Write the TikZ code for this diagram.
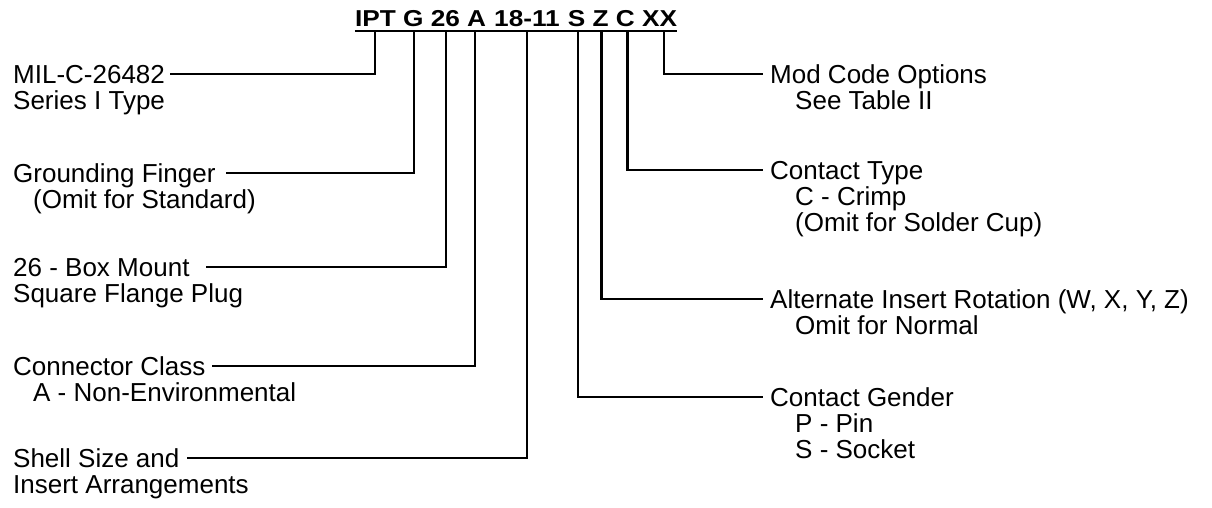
\documentclass[tikz,border=0pt]{standalone}
\usepackage{fontspec}
\setmainfont{Liberation Sans}
\newfontfamily\titlefont{Liberation Sans}[FakeStretch=1.14]
\begin{document}
\begin{tikzpicture}[x=1pt,y=-1pt,
  conn/.style={line width=2.2pt,line cap=rect,line join=miter,black},
  titleseg/.style={anchor=base,inner sep=0pt,text depth=4pt,
    font=\titlefont\bfseries\fontsize{23}{23}\selectfont},
  lbl/.style={anchor=west,inner sep=0pt,text height=18.7pt,text depth=0pt,
    font=\fontsize{26}{26}\selectfont}]
\useasboundingbox (0,0) rectangle (1212,508);
% title segments
\node[titleseg] (ipt) at (375.4,27) {IPT};
\node[titleseg] (g)   at (413.3,27) {G};
\node[titleseg] (n26) at (445.4,27) {26};
\node[titleseg] (a)   at (476.7,27) {A};
\node[titleseg] (sz)  at (527,27) {18-11};
\node[titleseg] (s)   at (576.5,27) {S};
\node[titleseg] (z)   at (600.6,27) {Z};
\node[titleseg] (c)   at (625.3,27) {C};
\node[titleseg] (xx)  at (659.5,27) {XX};
\draw[line width=2pt] (ipt.south west) -- (xx.south east);
% left labels
\node[lbl] (mil) at (13,74) {MIL-C-26482};
\node[lbl] (mil2) at (13,100) {Series I Type};
\node[lbl] (gf) at (13,173) {Grounding Finger};
\node[lbl] (gf2) at (33,199) {(Omit for Standard)};
\node[lbl] (bm) at (13,267) {26 - Box Mount};
\node[lbl] (bm2) at (13,293) {Square Flange Plug};
\node[lbl] (cc) at (13,366) {Connector Class};
\node[lbl] (cc2) at (33,392) {A - Non-Environmental};
\node[lbl] (ss) at (13,458) {Shell Size and};
\node[lbl] (ss2) at (13,484) {Insert Arrangements};
% right labels
\node[lbl] (mod) at (770,74) {Mod Code Options};
\node[lbl] (mod2) at (795,100) {See Table II};
\node[lbl] (ct) at (770,170) {Contact Type};
\node[lbl] (ct2) at (795,196) {C - Crimp};
\node[lbl] (ct3) at (795,222) {(Omit for Solder Cup)};
\node[lbl] (ar) at (770,299) {Alternate Insert Rotation (W, X, Y, Z)};
\node[lbl] (ar2) at (795,325) {Omit for Normal};
\node[lbl] (cg) at (770,397) {Contact Gender};
\node[lbl] (cg2) at (795,423) {P - Pin};
\node[lbl] (cg3) at (795,449) {S - Socket};
% connectors
\draw[conn] ([xshift=-0.4pt]ipt.south) |- ([xshift=6pt]mil.east);
\draw[conn] ([xshift=0.7pt]g.south) |- ([xshift=11pt]gf.east);
\draw[conn] ([xshift=0.6pt]n26.south) |- ([xshift=17pt]bm.east);
\draw[conn] ([xshift=-1.7pt]a.south) |- ([xshift=8pt]cc.east);
\draw[conn] (sz.south) |- ([xshift=8pt]ss.east);
\draw[conn] ([xshift=4.5pt]xx.south) |- ([xshift=-8pt]mod.west);
\draw[conn] ([xshift=2.2pt]c.south) |- ([xshift=-8pt]ct.west);
\draw[conn] ([xshift=0.9pt]z.south) |- ([xshift=-8pt]ar.west);
\draw[conn] ([xshift=1.5pt]s.south) |- ([xshift=-8pt]cg.west);
\end{tikzpicture}
\end{document}
